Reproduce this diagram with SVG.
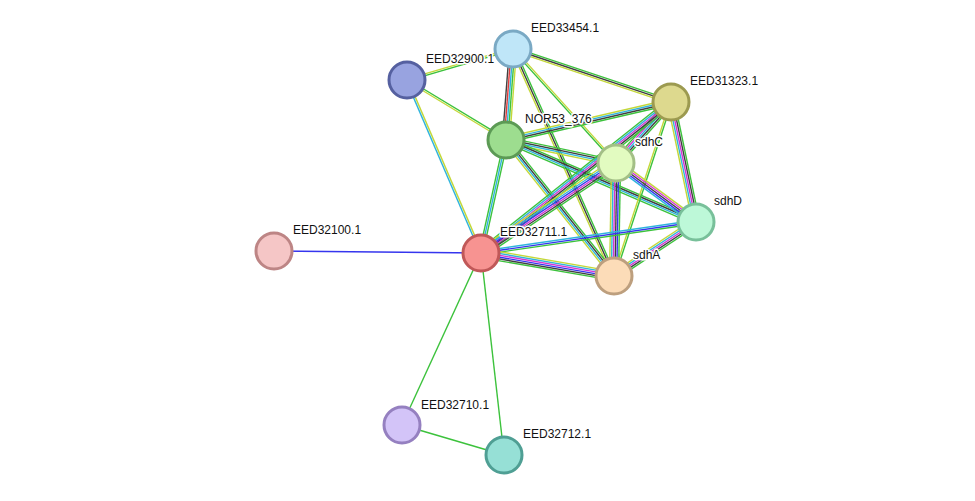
<svg xmlns="http://www.w3.org/2000/svg" width="975" height="501" viewBox="0 0 975 501">
<style>
line{stroke-width:1.4;fill:none}
.g{stroke:#3cc23c}.y{stroke:#c4d83a}.k{stroke:#404040}.c{stroke:#30b4dc}.b{stroke:#3535ee}.m{stroke:#d535d5}.r{stroke:#e33a3a}
circle{stroke-width:3}
text{font-family:"Liberation Sans",Arial,sans-serif;font-size:12px;fill:#111;stroke:#fff;stroke-width:3;paint-order:stroke;stroke-linejoin:round}
</style>
<rect width="975" height="501" fill="#fff"/>
<g id="edges">
<g transform="translate(513,49) rotate(163.7)"><line class="g" x2="110.4" y1="-0.9" y2="-0.9"/><line class="y" x2="110.4" y1="0.9" y2="0.9"/></g>
<g transform="translate(513,49) rotate(94.4)"><line class="y" x2="91.3" y1="-3.6" y2="-3.6"/><line class="g" x2="91.3" y1="-1.8" y2="-1.8"/><line class="c" x2="91.3"/><line class="r" x2="91.3" y1="1.8" y2="1.8"/><line class="k" x2="91.3" y1="3.6" y2="3.6"/></g>
<g transform="translate(513,49) rotate(18.5)"><line class="g" x2="166.7" y1="-1.8" y2="-1.8"/><line class="k" x2="166.7"/><line class="y" x2="166.7" y1="1.8" y2="1.8"/></g>
<g transform="translate(513,49) rotate(47.9)"><line class="y" x2="153.6" y1="-0.9" y2="-0.9"/><line class="g" x2="153.6" y1="0.9" y2="0.9"/></g>
<g transform="translate(513,49) rotate(66)"><line class="g" x2="248.5" y1="-1.8" y2="-1.8"/><line class="k" x2="248.5"/><line class="y" x2="248.5" y1="1.8" y2="1.8"/></g>
<g transform="translate(407,80) rotate(31.2)"><line class="g" x2="115.8" y1="-0.9" y2="-0.9"/><line class="y" x2="115.8" y1="0.9" y2="0.9"/></g>
<g transform="translate(407,80) rotate(66.8)"><line class="y" x2="188.2" y1="-0.9" y2="-0.9"/><line class="c" x2="188.2" y1="0.9" y2="0.9"/></g>
<g transform="translate(506,140) rotate(-13)"><line class="y" x2="169.3" y1="-2.7" y2="-2.7"/><line class="c" x2="169.3" y1="-0.9" y2="-0.9"/><line class="k" x2="169.3" y1="0.9" y2="0.9"/><line class="g" x2="169.3" y1="2.7" y2="2.7"/></g>
<g transform="translate(506,140) rotate(11.8)"><line class="g" x2="112.4" y1="-2.7" y2="-2.7"/><line class="k" x2="112.4" y1="-0.9" y2="-0.9"/><line class="c" x2="112.4" y1="0.9" y2="0.9"/><line class="y" x2="112.4" y1="2.7" y2="2.7"/></g>
<g transform="translate(506,140) rotate(23.3)"><line class="g" x2="206.9" y1="-2.7" y2="-2.7"/><line class="k" x2="206.9" y1="-0.9" y2="-0.9"/><line class="c" x2="206.9" y1="0.9" y2="0.9"/><line class="g" x2="206.9" y1="2.7" y2="2.7"/></g>
<g transform="translate(506,140) rotate(51.5)"><line class="g" x2="173.7" y1="-2.7" y2="-2.7"/><line class="k" x2="173.7" y1="-0.9" y2="-0.9"/><line class="c" x2="173.7" y1="0.9" y2="0.9"/><line class="y" x2="173.7" y1="2.7" y2="2.7"/></g>
<g transform="translate(506,140) rotate(102.5)"><line class="g" x2="115.7" y1="-1.8" y2="-1.8"/><line class="c" x2="115.7"/><line class="g" x2="115.7" y1="1.8" y2="1.8"/></g>
<g transform="translate(671,102) rotate(132)"><line class="g" x2="82.1" y1="-3.6" y2="-3.6"/><line class="k" x2="82.1" y1="-1.8" y2="-1.8"/><line class="c" x2="82.1"/><line class="m" x2="82.1" y1="1.8" y2="1.8"/><line class="g" x2="82.1" y1="3.6" y2="3.6"/></g>
<g transform="translate(671,102) rotate(78.2)"><line class="g" x2="122.6" y1="-3.6" y2="-3.6"/><line class="k" x2="122.6" y1="-1.8" y2="-1.8"/><line class="m" x2="122.6"/><line class="c" x2="122.6" y1="1.8" y2="1.8"/><line class="y" x2="122.6" y1="3.6" y2="3.6"/></g>
<g transform="translate(671,102) rotate(141.5)"><line class="g" x2="242.7" y1="-3.6" y2="-3.6"/><line class="k" x2="242.7" y1="-1.8" y2="-1.8"/><line class="m" x2="242.7"/><line class="c" x2="242.7" y1="1.8" y2="1.8"/><line class="g" x2="242.7" y1="3.6" y2="3.6"/></g>
<g transform="translate(671,102) rotate(108.1)"><line class="g" x2="183.1" y1="-0.9" y2="-0.9"/><line class="y" x2="183.1" y1="0.9" y2="0.9"/></g>
<g transform="translate(616,163) rotate(36.4)"><line class="y" x2="99.4" y1="-3.6" y2="-3.6"/><line class="m" x2="99.4" y1="-1.8" y2="-1.8"/><line class="k" x2="99.4"/><line class="b" x2="99.4" y1="1.8" y2="1.8"/><line class="c" x2="99.4" y1="3.6" y2="3.6"/></g>
<g transform="translate(616,163) rotate(91)"><line class="g" x2="113" y1="-4.5" y2="-4.5"/><line class="b" x2="113" y1="-2.7" y2="-2.7"/><line class="k" x2="113" y1="-0.9" y2="-0.9"/><line class="m" x2="113" y1="0.9" y2="0.9"/><line class="c" x2="113" y1="2.7" y2="2.7"/><line class="y" x2="113" y1="4.5" y2="4.5"/></g>
<g transform="translate(616,163) rotate(146.3)"><line class="g" x2="162.2" y1="-4.5" y2="-4.5"/><line class="k" x2="162.2" y1="-2.7" y2="-2.7"/><line class="m" x2="162.2" y1="-0.9" y2="-0.9"/><line class="b" x2="162.2" y1="0.9" y2="0.9"/><line class="c" x2="162.2" y1="2.7" y2="2.7"/><line class="y" x2="162.2" y1="4.5" y2="4.5"/></g>
<g transform="translate(696,222) rotate(146.6)"><line class="g" x2="98.2" y1="-3.6" y2="-3.6"/><line class="k" x2="98.2" y1="-1.8" y2="-1.8"/><line class="m" x2="98.2"/><line class="c" x2="98.2" y1="1.8" y2="1.8"/><line class="y" x2="98.2" y1="3.6" y2="3.6"/></g>
<g transform="translate(696,222) rotate(171.8)"><line class="g" x2="217.2" y1="-1.8" y2="-1.8"/><line class="b" x2="217.2"/><line class="c" x2="217.2" y1="1.8" y2="1.8"/></g>
<g transform="translate(614,276) rotate(189.8)"><line class="g" x2="135" y1="-4.5" y2="-4.5"/><line class="k" x2="135" y1="-2.7" y2="-2.7"/><line class="b" x2="135" y1="-0.9" y2="-0.9"/><line class="m" x2="135" y1="0.9" y2="0.9"/><line class="c" x2="135" y1="2.7" y2="2.7"/><line class="y" x2="135" y1="4.5" y2="4.5"/></g>
<line class="b" x1="481" y1="253" x2="274" y2="251"/>
<line class="g" x1="481" y1="253" x2="402" y2="425"/>
<line class="g" x1="481" y1="253" x2="504" y2="455"/>
<line class="g" x1="402" y1="425" x2="504" y2="455"/>
</g>
<g id="n-EED33454"><circle cx="513" cy="49" r="18" fill="#bfe6f8" stroke="#7aa9c4"/><text x="531" y="32">EED33454.1</text></g>
<g id="n-EED32900"><circle cx="407" cy="80" r="18" fill="#98a3e0" stroke="#5560a0"/><text x="426" y="63">EED32900.1</text></g>
<g id="n-EED31323"><circle cx="671" cy="102" r="18" fill="#ddd98e" stroke="#9c9a50"/><text x="690" y="85">EED31323.1</text></g>
<g id="n-NOR53"><circle cx="506" cy="140" r="18" fill="#9ddd8f" stroke="#5c9a55"/><text x="525" y="123">NOR53_376</text></g>
<g id="n-sdhC"><circle cx="616" cy="163" r="18" fill="#e2fbc0" stroke="#a3bf86"/><text x="635" y="146">sdhC</text></g>
<g id="n-sdhD"><circle cx="696" cy="222" r="18" fill="#bdf8d8" stroke="#78c09a"/><text x="714" y="205">sdhD</text></g>
<g id="n-EED32711"><circle cx="481" cy="253" r="18" fill="#f79391" stroke="#c05858"/><text x="500" y="236">EED32711.1</text></g>
<g id="n-sdhA"><circle cx="614" cy="276" r="18" fill="#fcdcb8" stroke="#bd9f7e"/><text x="633" y="259">sdhA</text></g>
<g id="n-EED32100"><circle cx="274" cy="251" r="18" fill="#f5c6c6" stroke="#bd8585"/><text x="293" y="234">EED32100.1</text></g>
<g id="n-EED32710"><circle cx="402" cy="425" r="18" fill="#d3c4f8" stroke="#9580c0"/><text x="421" y="409">EED32710.1</text></g>
<g id="n-EED32712"><circle cx="504" cy="455" r="18" fill="#96e0d6" stroke="#4f9f94"/><text x="523" y="438">EED32712.1</text></g>
</svg>
